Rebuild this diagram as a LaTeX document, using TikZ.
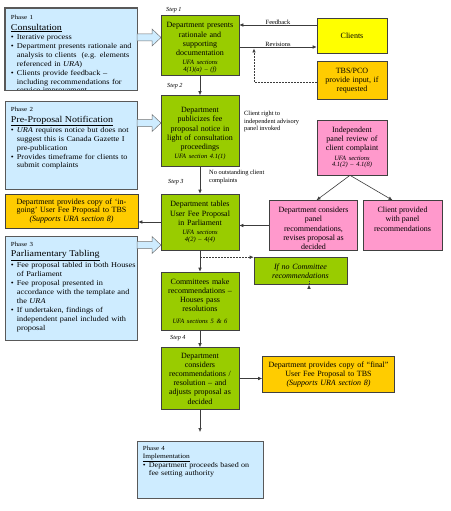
\documentclass[tikz,border=0pt]{standalone}
\usepackage{fontspec}
\setmainfont{Liberation Serif}
\newfontfamily\phf[FakeStretch=1.12]{Liberation Serif}
\usetikzlibrary{arrows.meta,calc}
\definecolor{mygreen}{RGB}{153,204,0}
\definecolor{myorange}{RGB}{255,204,0}
\definecolor{myyellow}{RGB}{255,255,0}
\definecolor{mypink}{RGB}{255,153,204}
\definecolor{phaseblue}{RGB}{206,236,255}
\definecolor{linegray}{RGB}{60,60,60}
\newcommand\secttext[1]{\par\vspace{2.5pt}{\itshape\fontsize{6.5}{6.8}\selectfont #1\par}}
\newcommand\topstrut[1]{\rule{0pt}{#1}}
\newcommand\bul{\makebox[6pt][l]{•}}
\newcommand\ind{\hspace*{6pt}}
\newcommand\phlabel[1]{{\fontsize{6.2}{7}\selectfont #1}}
\newcommand\phhead[1]{{\fontsize{8.9}{9.5}\selectfont\underline{#1}}}
\begin{document}
\begin{tikzpicture}[x=1pt,y=-1pt,
  box/.style={draw=black!75, line width=0.6pt, inner sep=2pt, align=center},
  greenbox/.style={box, fill=mygreen, minimum width=78pt, text width=74pt, font=\fontsize{8}{9.2}\selectfont},
  pinkbox/.style={box, fill=mypink, font=\fontsize{8}{9.3}\selectfont},
  orangebox/.style={box, fill=myorange, font=\fontsize{8}{8.9}\selectfont},
  phasebox/.style={draw=black!65, fill=phaseblue, line width=0.6pt, inner sep=0pt},
  phasetext/.style={anchor=north west, align=left, inner sep=0pt, text width=126pt, font=\phf\fontsize{7.4}{8.7}\selectfont},
  boxtext/.style={inner sep=0pt, anchor=north, align=center, font=\fontsize{8}{9.3}\selectfont},
  lbl/.style={inner sep=0pt, align=left, font=\fontsize{6.4}{7.6}\selectfont},
  steplbl/.style={inner sep=0pt, anchor=west, font=\itshape\fontsize{6.2}{7}\selectfont},
  arr/.style={draw=linegray, line width=0.6pt, -{Latex[length=4pt,width=3.6pt]}},
  darr/.style={arr, dashed, dash pattern=on 1.6pt off 1.4pt},
  blk/.pic={\draw[fill=phaseblue, draw=black!55, line width=0.5pt] (0,-3.5) -- (15,-3.5) -- (15,-8.5) -- (24,0) -- (15,8.5) -- (15,3.5) -- (0,3.5) -- cycle;}
]
\fill[white] (0,0) rectangle (450,511);
\useasboundingbox (0,0) rectangle (450,511);

% ---------- phase boxes ----------
\node[phasebox, minimum width=132pt, minimum height=82pt] (P1) at (71,49) {};
\begin{scope}
\clip (P1.north west) rectangle ($(P1.south east)+(0,-0.5)$);
\node[phasetext, font=\phf\fontsize{7.4}{8.9}\selectfont] (P1t) at ($(P1.north west)+(6,7)$) {%
\phlabel{Phase 1}\\[2pt]
\phhead{Consultation}\\[0.5pt]
\bul Iterative process\\
\bul Department presents rationale and\\
\ind analysis to clients\ \ (e.g. elements\\
\ind referenced in \textit{URA})\\
\bul Clients provide feedback –\\
\ind including recommendations for\\
\ind service improvement};
\end{scope}
\draw[draw=black!65, line width=0.6pt] (P1.north west) rectangle (P1.south east);

\node[phasebox, minimum width=132pt, minimum height=88pt] (P2) at (71,145) {};
\node[phasetext] (P2t) at ($(P2.north west)+(6,6.5)$) {%
\phlabel{Phase 2}\\[2pt]
\phhead{Pre-Proposal Notification}\\[0.5pt]
\bul \textit{URA} requires notice but does not\\
\ind suggest this is Canada Gazette I\\
\ind pre-publication\\
\bul Provides timeframe for clients to\\
\ind submit complaints};

\node[orangebox, minimum width=133pt, text width=129pt, minimum height=34pt] (IN) at (71.5,211) {Department provides copy of ‘in-\\going’ User Fee Proposal to TBS\\\textit{(Supports URA section 8)}};

\node[phasebox, minimum width=132pt, minimum height=104pt] (P3) at (71,288) {};
\node[phasetext] (P3t) at ($(P3.north west)+(6,6)$) {%
\phlabel{Phase 3}\\[2pt]
\phhead{Parliamentary Tabling}\\[0.5pt]
\bul Fee proposal tabled in both Houses\\
\ind of Parliament\\[1pt]
\bul Fee proposal presented in\\
\ind accordance with the template and\\
\ind the \textit{URA}\\[1pt]
\bul If undertaken, findings of\\
\ind independent panel included with\\
\ind proposal};

\node[phasebox, minimum width=126pt, minimum height=57pt] (P4) at (200,469.5) {};
\node[phasetext, text width=118pt, font=\phf\fontsize{7.2}{7.8}\selectfont] (P4t) at ($(P4.north west)+(6,5)$) {%
\phlabel{Phase 4}\\
{\fontsize{6.6}{7.5}\selectfont\underline{Implementation}}\\
\bul Department proceeds based on\\
\ind fee setting authority};

% block arrows
\pic at (137,37.5) {blk};
\pic at (137,123) {blk};
\pic at (137,245) {blk};

% ---------- green column ----------
\node[greenbox, minimum height=59pt] (S1) at (200,45) {\topstrut{11pt}Department presents\\rationale and\\supporting\\documentation\secttext{UFA sections\\4(1)(a) – (f)}};
\node[greenbox, minimum height=71pt] (S2) at (200,131) {\topstrut{11pt}Department\\publicizes fee\\proposal notice in\\light of consultation\\proceedings\secttext{UFA section 4.1(1)}};
\node[greenbox, minimum height=56pt] (S3) at (200,222) {Department tables\\User Fee Proposal\\in Parliament\secttext{UFA sections\\4(2) – 4(4)}};
\node[greenbox, minimum height=58pt] (CM) at (200,301) {Committees make\\recommendations –\\Houses pass\\resolutions\par\vspace{2pt}\secttext{UFA sections 5 \& 6}};
\node[greenbox, minimum height=62pt] (S4) at (200,378.5) {Department\\considers\\recommendations /\\resolution – and\\adjusts proposal as\\decided};
\node[greenbox, minimum width=93pt, text width=89pt, minimum height=27pt, font=\itshape\fontsize{8}{9}\selectfont] (IFNO) at (300.5,271) {If no Committee\\recommendations};

% ---------- right column ----------
\node[box, fill=myyellow, minimum width=70pt, text width=66pt, minimum height=35pt, font=\fontsize{8}{9}\selectfont] (CL) at (352,36) {Clients};
\node[orangebox, minimum width=70pt, text width=66pt, minimum height=38pt] (TBS) at (352,80.5) {TBS/PCO\\provide input, if\\requested};
\node[pinkbox, minimum width=70pt, text width=66pt, minimum height=55pt] (PAN) at (352,147.5) {Independent\\panel review of\\client complaint\secttext{UFA sections\\4.1(2) – 4.1(8)}};
\node[pinkbox, minimum width=88pt, minimum height=50pt] (DC) at (313.5,225.5) {};
\begin{scope}
\clip ($(DC.north west)+(0,1)$) rectangle ($(DC.south east)+(0,-2.5)$);
\node[boxtext] (DCt) at ($(DC.north)+(0,6.5)$) {Department considers\\panel\\recommendations,\\revises proposal as\\decided};
\end{scope}
\node[pinkbox, minimum width=79pt, minimum height=50pt] (CP) at (402.5,225.5) {};
\node[boxtext] (CPt) at ($(CP.north)+(0,6.5)$) {Client provided\\with panel\\recommendations};
\node[orangebox, minimum width=132pt, text width=128pt, minimum height=36pt] (FIN) at (328.5,374.5) {Department provides copy of “final”\\User Fee Proposal to TBS\\\textit{(Supports URA section 8)}};

% ---------- labels ----------
\node[steplbl] (st1) at (166,10) {Step 1};
\node[steplbl] (st2) at (167,86) {Step 2};
\node[steplbl] (st3) at (168,182) {Step 3};
\node[steplbl] (st4) at (170,338) {Step 4};
\node[lbl, anchor=north west] (crt) at (244,111) {Client right to\\independent advisory\\panel invoked};
\node[lbl, anchor=north west] (noc) at (209,170) {No outstanding client\\complaints};

% ---------- connectors ----------
\draw[arr] (CL.west |- 0,25) -- (S1.east |- 0,25) node[midway, above=0.5pt, lbl] (fb) {Feedback};
\draw[arr] (S1.east |- 0,47) -- (CL.west |- 0,47) node[midway, above=0.5pt, lbl] (rv) {Revisions};
\coordinate (rvin) at (254,48.5);
\draw[darr] (TBS.west |- 0,82) -| (rvin);
\draw[arr] (S1) -- (S2);
\draw[arr] (S2) -- (S3);
\draw[arr] ($(PAN.south)+(-2,0)$) -- ($(DC.north)+(3,0)$);
\draw[arr] ($(PAN.south)+(-2,0)$) -- ($(CP.north)+(-10,0)$);
\draw[arr] (DC.west) -- (DC.west -| S3.east);
\draw[arr] (S3.west) -- (S3.west -| IN.east);
\draw[arr] (S3) -- (CM);
\draw[darr] (S3.south |- IFNO.north) -- (IFNO.north west);
\draw[darr] ($(IFNO.south)+(8.5,0)$) -- ($(IFNO.south)+(8.5,0)$ |- FIN.north);
\draw[arr] (CM) -- (S4);
\draw[arr] (S4.east) -- (S4.east -| FIN.west);
\coordinate (p4in) at (200,432);
\draw[arr] (S4) -- (p4in);
\end{tikzpicture}
\end{document}
